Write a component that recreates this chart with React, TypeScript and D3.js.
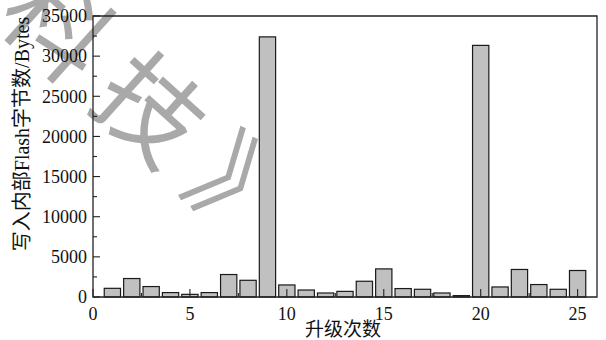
import React, { useEffect, useRef } from "react";
import * as d3 from "d3";

// upgrade index and bytes written into internal flash per upgrade
const upgrades = [1, 2, 3, 4, 5, 6, 7, 8, 9, 10, 11, 12, 13, 14, 15, 16, 17, 18, 19, 20, 21, 22, 23, 24, 25];
const bytesWritten = [
  1080, 2300, 1300, 550, 330, 550, 2800, 2080, 32400, 1500, 870, 500, 700, 1960, 3500,
  1050, 960, 500, 170, 31340, 1250, 3430, 1550, 960, 3300,
];
const xTicks = [0, 5, 10, 15, 20, 25];
const yTicks = [0, 5000, 10000, 15000, 20000, 25000, 30000, 35000];
const xLabel = "升级次数";
const yLabel = "写入内部Flash字节数/Bytes";
const watermark = ["科", "技", "》"];

const W = 606;
const H = 340;
const margin = { top: 16, right: 9, bottom: 43, left: 93 };
const latin = "Liberation Serif, Times New Roman, DejaVu Serif, serif";
const cjk = "Liberation Serif, Noto Sans CJK SC, serif";

export default function App() {
  const svgRef = useRef<SVGSVGElement | null>(null);

  useEffect(() => {
    const svgEl = svgRef.current;
    if (!svgEl) return;
    const svg = d3.select(svgEl);
    svg.selectAll("*").remove();

    const x = d3.scaleLinear().domain([0, 26]).range([margin.left, W - margin.right]);
    const y = d3.scaleLinear().domain([0, 35000]).range([H - margin.bottom, margin.top]);
    const barW = (x(1) - x(0)) * 0.84;
    const x0 = x(0);
    const y0 = y(0);

    // watermark behind everything
    const wm = svg.append("g").attr("transform", "translate(150,110) rotate(42)");
    const wmOffsets = [-125, 0, 126];
    watermark.forEach((c, i) => {
      wm.append("text")
        .attr("x", wmOffsets[i])
        .attr("y", 0)
        .attr("dy", "0.36em")
        .attr("text-anchor", "middle")
        .style("font-family", "Noto Sans CJK SC, sans-serif")
        .attr("font-size", 104)
        .attr("fill", "#a9a9a9")
        .text(c);
    });

    // bars
    svg.append("g")
      .selectAll("rect")
      .data(upgrades)
      .join("rect")
      .attr("x", (d) => x(d) - barW / 2)
      .attr("y", (_, i) => y(bytesWritten[i]))
      .attr("width", barW)
      .attr("height", (_, i) => y0 - y(bytesWritten[i]))
      .attr("fill", "#c0c0c0")
      .attr("stroke", "#1a1a1a")
      .attr("stroke-width", 1.2);

    const axisColor = "#222";
    const frame = svg.append("g").attr("stroke", axisColor).attr("stroke-width", 1.3).attr("fill", "none");
    frame.append("path")
      .attr("d", `M${x0},${y(35000)} H${x(26)} V${y0} H${x0} Z`);

    // inward ticks, major + minor
    const ticks = svg.append("g").attr("stroke", axisColor).attr("stroke-width", 1.1);
    d3.range(0, 35001, 2500).forEach((v) => {
      const major = v % 5000 === 0;
      ticks.append("line")
        .attr("x1", x0).attr("x2", x0 + (major ? 7 : 4))
        .attr("y1", y(v)).attr("y2", y(v));
    });
    d3.range(0, 26, 2.5).forEach((v) => {
      const major = v % 5 === 0;
      ticks.append("line")
        .attr("x1", x(v)).attr("x2", x(v))
        .attr("y1", y0).attr("y2", y0 - (major ? 8 : 4));
    });

    svg.append("g")
      .selectAll("text")
      .data(yTicks)
      .join("text")
      .attr("x", x0 - 6)
      .attr("y", (d) => y(d))
      .attr("dy", "0.35em")
      .attr("text-anchor", "end")
      .style("font-family", latin)
      .attr("font-size", 18)
      .attr("fill", "#111")
      .text((d) => String(d));

    svg.append("g")
      .selectAll("text")
      .data(xTicks)
      .join("text")
      .attr("x", (d) => x(d))
      .attr("y", y0 + 23)
      .attr("text-anchor", "middle")
      .style("font-family", latin)
      .attr("font-size", 18)
      .attr("fill", "#111")
      .text((d) => String(d));

    svg.append("text")
      .attr("x", 343)
      .attr("y", 336)
      .attr("text-anchor", "middle")
      .style("font-family", cjk)
      .attr("font-size", 19)
      .attr("fill", "#111")
      .text(xLabel);

    svg.append("text")
      .attr("transform", "translate(29,134) rotate(-90)")
      .attr("text-anchor", "middle")
      .style("font-family", cjk)
      .attr("font-size", 20)
      .attr("fill", "#111")
      .text(yLabel);
  }, []);

  return (
    <svg
      ref={svgRef}
      width={W}
      height={H}
      style={{ position: "absolute", left: 0, top: 0, background: "#fff" }}
    />
  );
}
